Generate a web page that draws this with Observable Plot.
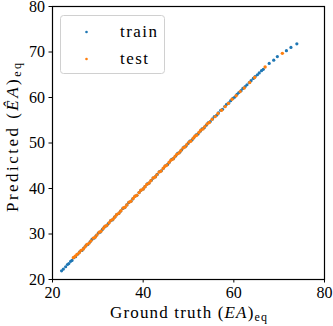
<!DOCTYPE html>
<html><head><meta charset="utf-8">
<script src="https://cdn.jsdelivr.net/npm/d3@7"></script>
<script src="https://cdn.jsdelivr.net/npm/@observablehq/plot@0.6"></script>
<style>body{margin:0;background:#fff} #chart svg text{font-family:'Liberation Serif',serif !important}</style>
</head><body><div id="chart"></div>
<script>
const xTicks = [20, 40, 60, 80];
const yTicks = [20, 30, 40, 50, 60, 70, 80];
const seriesNames = ["train", "test"];
const seriesColors = ["#1f77b4", "#ff7f0e"];

const trainTruth = [22.0,22.4,22.9,23.3,23.6,24.0,24.3,24.7,25.1,25.6,26.0,26.5,26.9,27.4,27.8,28.3,28.7,29.2,29.6,30.1,30.5,31.0,31.4,31.9,32.3,32.8,33.2,33.7,34.1,34.6,35.0,35.5,35.9,36.4,36.8,37.3,37.7,38.2,38.6,39.1,39.5,40.0,40.4,40.9,41.3,41.8,42.2,42.7,43.1,43.6,44.0,44.5,44.9,45.4,45.8,46.3,46.7,47.2,47.6,48.1,48.5,49.0,49.4,49.9,50.3,50.8,51.2,51.7,52.1,52.6,53.0,53.5,53.9,54.4,54.8,55.3,55.7,56.2,56.6,57.1,57.5,58.0,58.4,58.9,59.3,59.8,60.2,60.7,61.1,61.6,62.0,62.5,62.9,63.4,63.8,64.3,64.7,65.2,65.6,66.1,66.5,67.8,68.8,69.6,71.6,72.6,73.9];
const trainPred = [21.9,22.3,22.8,23.3,23.5,24.0,24.2,24.8,25.0,25.6,26.1,26.4,26.9,27.5,27.7,28.3,28.8,29.1,29.6,30.2,30.4,31.0,31.5,31.8,32.3,32.9,33.1,33.7,34.2,34.5,35.0,35.6,35.8,36.4,36.9,37.2,37.7,38.3,38.5,39.1,39.6,39.9,40.4,41.0,41.2,41.8,42.3,42.6,43.1,43.7,43.9,44.5,45.0,45.3,45.8,46.4,46.6,47.2,47.7,48.0,48.5,49.1,49.3,49.9,50.4,50.7,51.2,51.8,52.0,52.6,53.1,53.4,53.9,54.5,54.7,55.3,55.8,56.1,56.6,57.2,57.4,58.0,58.5,58.8,59.3,59.8,60.1,60.7,61.1,61.5,62.0,62.4,62.8,63.3,63.7,64.2,64.6,65.0,65.4,65.9,66.2,67.5,68.2,69.0,70.3,71.0,71.8];

const testTruth = [24.6,25.0,25.4,25.9,26.3,26.8,27.2,27.6,28.1,28.5,29.0,29.4,29.8,30.3,30.7,31.2,31.6,32.0,32.5,32.9,33.4,33.8,34.2,34.7,35.1,35.6,36.0,36.4,36.9,37.3,37.8,38.2,38.6,39.1,39.5,40.0,40.4,40.8,41.3,41.7,42.2,42.6,43.0,43.5,43.9,44.4,44.8,45.2,45.7,46.1,46.6,47.0,47.4,47.9,48.3,48.8,49.2,49.6,50.1,50.5,51.0,51.4,51.8,52.3,52.7,53.2,53.6,54.1,54.6,55.2,55.9,56.5,57.3,58.1,58.8,59.6,60.5,61.4,62.3,63.5,64.6,66.9,70.7];
const testPred = [24.8,25.1,25.5,25.9,26.4,26.7,27.2,27.7,28.0,28.5,29.1,29.3,29.8,30.4,30.6,31.2,31.7,31.9,32.5,33.0,33.3,33.8,34.3,34.6,35.1,35.7,35.9,36.4,37.0,37.2,37.8,38.3,38.5,39.1,39.6,39.9,40.4,40.9,41.2,41.7,42.3,42.5,43.0,43.6,43.8,44.4,44.9,45.1,45.7,46.2,46.5,47.0,47.5,47.8,48.3,48.9,49.1,49.6,50.2,50.4,51.0,51.5,51.7,52.3,52.8,53.1,53.6,54.2,54.5,55.2,55.8,56.5,57.2,58.0,58.7,59.6,60.4,61.3,62.1,63.3,64.4,66.7,69.7];

const train = trainTruth.map((t, i) => ({truth: t, pred: trainPred[i]}));
const test = testTruth.map((t, i) => ({truth: t, pred: testPred[i]}));

const FONT = "'Liberation Serif', serif";
const FS = 16;
const svg = Plot.plot({
  width: 333, height: 326,
  marginLeft: 52, marginRight: 9, marginTop: 6, marginBottom: 47,
  style: {fontFamily: FONT, fontSize: FS + "px", color: "black", background: "white", overflow: "visible"},
  x: {domain: [20, 80], label: null},
  y: {domain: [20, 80], label: null},
  marks: [
    Plot.axisX({ticks: xTicks, tickSize: 3.5, tickPadding: 4, label: null, fontSize: FS, fontFamily: FONT}),
    Plot.axisY({ticks: yTicks, tickSize: 3.5, tickPadding: 4, label: null, fontSize: FS, fontFamily: FONT}),
    Plot.dot(train, {x: "truth", y: "pred", r: 1.6, fill: seriesColors[0], stroke: null}),
    Plot.dot(test, {x: "truth", y: "pred", r: 1.7, fill: seriesColors[1], stroke: null}),
    Plot.frame({stroke: "black", strokeWidth: 1.2})
  ]
});
document.getElementById("chart").appendChild(svg);

const s = d3.select(svg);
// x label
const xl = s.append("text").attr("x", 110).attr("y", 318).attr("text-anchor", "start")
  .attr("font-family", FONT).attr("font-size", 17).attr("fill", "black")
  .attr("textLength", 157).attr("lengthAdjust", "spacing");
xl.append("tspan").text("Ground truth (");
xl.append("tspan").attr("font-style", "italic").text("EA");
xl.append("tspan").text(")");
xl.append("tspan").attr("font-size", 12).attr("dy", 3).text("eq");

// y label
const yl = s.append("text").attr("transform", "translate(18,212) rotate(-90)").attr("text-anchor", "start")
  .attr("font-family", FONT).attr("font-size", 17).attr("fill", "black")
  .attr("textLength", 149).attr("lengthAdjust", "spacing");
yl.append("tspan").text("Predicted (");
yl.append("tspan").attr("font-style", "italic").text("\u00CAA");
yl.append("tspan").text(")");
yl.append("tspan").attr("font-size", 12).attr("dy", 3).text("eq");

// legend
const lg = s.append("g");
lg.append("rect").attr("x", 60.5).attr("y", 15.5).attr("width", 104).attr("height", 58).attr("rx", 3)
  .attr("fill", "white").attr("fill-opacity", 0.8).attr("stroke", "#d0d0d0");
const legendWidths = [37, 28];
seriesNames.forEach((n, i) => {
  const cy = 32 + i * 27;
  lg.append("circle").attr("cx", 86.5).attr("cy", cy).attr("r", 1.3).attr("fill", seriesColors[i]);
  lg.append("text").attr("x", 120).attr("y", cy + 5).attr("text-anchor", "start").attr("font-family", FONT).attr("font-size", 17)
    .attr("textLength", legendWidths[i]).attr("lengthAdjust", "spacing")
    .attr("fill", "black").text(n);
});
</script></body></html>
